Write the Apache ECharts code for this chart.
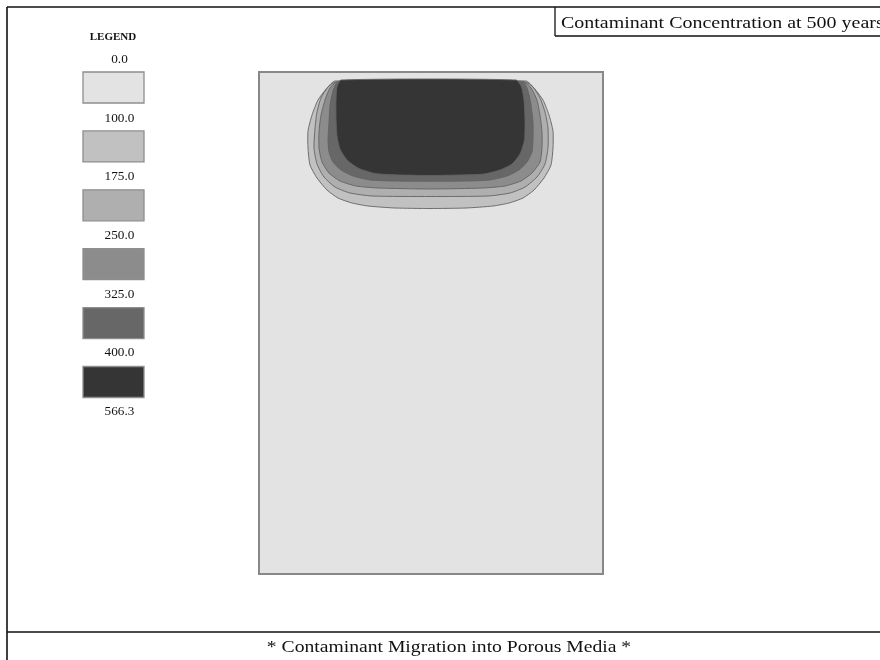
<!DOCTYPE html>
<html>
<head>
<meta charset="utf-8">
<script src="https://cdn.jsdelivr.net/npm/echarts@6/dist/echarts.min.js"></script>
<style>
  html, body { margin: 0; padding: 0; background: #ffffff; }
  #chart { width: 880px; height: 660px; }
</style>
</head>
<body>
<div id="chart"></div>
<script>
// Concentration contour levels and the grey shade of each band between them
const levels = [0.0, 100.0, 175.0, 250.0, 325.0, 400.0, 566.3];
const bandColors = ['#e3e3e3', '#c1c1c1', '#afafaf', '#8c8c8c', '#676767', '#353535'];

// Porous-media domain (m): width and depth
const domainWidth = 34.4;
const domainDepth = 50.2;

// Contour outlines as [x, depth] in metres, one closed ring per level
const contour100 = [[7.6,0.9],[6.8,1.6],[5.9,2.8],[5.3,4.3],[4.9,5.9],[4.9,7.6],[5.1,9.3],[5.8,10.6],[6.8,11.8],[7.9,12.6],[9.3,13.1],[10.9,13.4],[13.6,13.6],[17.1,13.65],[20.7,13.6],[23.4,13.4],[25.0,13.1],[26.4,12.6],[27.5,11.8],[28.5,10.6],[29.2,9.3],[29.4,7.6],[29.4,5.9],[29.0,4.3],[28.4,2.8],[27.5,1.6],[26.7,0.9]];
const contour175 = [[7.7,1.0],[6.9,1.5],[6.2,2.6],[5.8,4.0],[5.6,5.6],[5.5,7.6],[5.8,9.2],[6.5,10.5],[7.6,11.5],[9.1,12.1],[11.3,12.4],[17.1,12.45],[22.9,12.4],[25.1,12.1],[26.6,11.5],[27.8,10.5],[28.6,9.2],[28.9,7.6],[28.9,5.6],[28.6,4.0],[28.1,2.6],[27.4,1.5],[26.6,1.0]];
const contour250 = [[7.8,1.0],[7.1,1.6],[6.6,2.8],[6.2,4.3],[6.0,6.0],[6.0,7.6],[6.3,9.0],[7.0,10.1],[8.1,10.9],[9.7,11.4],[11.9,11.6],[17.1,11.7],[22.4,11.6],[24.6,11.4],[26.2,10.9],[27.3,10.1],[28.1,9.0],[28.3,7.6],[28.3,6.0],[28.1,4.3],[27.8,2.8],[27.2,1.6],[26.5,1.0]];
const contour325 = [[7.9,1.0],[7.4,1.9],[7.1,3.3],[7.0,5.0],[6.9,6.8],[7.0,8.0],[7.4,9.0],[8.2,9.8],[9.4,10.4],[11.1,10.8],[13.3,10.9],[17.1,10.93],[20.9,10.9],[23.1,10.8],[24.8,10.4],[26.0,9.8],[26.8,9.0],[27.3,8.0],[27.4,6.8],[27.4,5.0],[27.2,3.3],[26.9,1.9],[26.4,1.0]];
const contour400 = [[8.2,0.8],[7.8,1.5],[7.7,2.8],[7.7,4.6],[7.8,6.4],[8.1,7.7],[8.8,8.8],[9.9,9.6],[11.6,10.15],[14.1,10.3],[17.1,10.35],[20.1,10.3],[22.5,10.2],[24.1,9.8],[25.3,9.2],[26.1,8.2],[26.55,6.8],[26.6,4.8],[26.5,2.8],[26.25,1.5],[25.7,0.8]];
const contours = [contour100, contour175, contour250, contour325, contour400];

const titleText = 'Contaminant Concentration at 500 years';
const captionText = '* Contaminant Migration into Porous Media *';
const legendTitle = 'LEGEND';

const serif = '"Liberation Serif", "DejaVu Serif", serif';
const ink = '#111111';

const chart = echarts.init(document.getElementById('chart'), null, { renderer: 'canvas' });

// Legend: a swatch per band with the level values written between swatches
const legendGraphics = [];
legendGraphics.push({
  type: 'text', x: 113, y: 37, scaleX: 1.05,
  style: { text: legendTitle, font: 'bold 10.5px ' + serif, fill: ink, textAlign: 'center', textVerticalAlign: 'middle' }
});
levels.forEach((v, i) => {
  legendGraphics.push({
    type: 'text', x: 119.5, y: 60.3 + i * 58.55, scaleX: 1.15,
    style: { text: v.toFixed(1), font: '11.5px ' + serif, fill: ink, textAlign: 'center', textVerticalAlign: 'middle' }
  });
});
bandColors.forEach((c, i) => {
  legendGraphics.push({
    type: 'rect',
    shape: { x: 83, y: 72 + i * 58.9, width: 61, height: 31 },
    style: { fill: c, stroke: '#8e8e8e', lineWidth: 1.3 }
  });
});

const frameGraphics = [
  // outer frame and caption divider
  { type: 'line', shape: { x1: 7, y1: 7, x2: 880, y2: 7 }, style: { stroke: ink, lineWidth: 1.6 } },
  { type: 'line', shape: { x1: 7, y1: 7, x2: 7, y2: 660 }, style: { stroke: ink, lineWidth: 1.6 } },
  { type: 'line', shape: { x1: 7, y1: 632, x2: 880, y2: 632 }, style: { stroke: ink, lineWidth: 1.6 } },
  // title box
  { type: 'line', shape: { x1: 555, y1: 7, x2: 555, y2: 36 }, style: { stroke: ink, lineWidth: 1.3 } },
  { type: 'line', shape: { x1: 555, y1: 36, x2: 880, y2: 36 }, style: { stroke: ink, lineWidth: 1.3 } },
  {
    type: 'text', x: 561, y: 23.5, scaleX: 1.21,
    style: { text: titleText, font: '16.5px ' + serif, fill: ink, textAlign: 'left', textVerticalAlign: 'middle' }
  },
  {
    type: 'text', x: 449, y: 647.5, scaleX: 1.19,
    style: { text: captionText, font: '16.5px ' + serif, fill: ink, textAlign: 'center', textVerticalAlign: 'middle' }
  }
];

const option = {
  backgroundColor: '#ffffff',
  animation: false,
  grid: {
    left: 259, top: 72, width: 344, height: 502,
    show: true, backgroundColor: bandColors[0], borderColor: '#888888', borderWidth: 2
  },
  xAxis: { type: 'value', min: 0, max: domainWidth, show: false },
  yAxis: { type: 'value', min: 0, max: domainDepth, inverse: true, show: false },
  series: [{
    type: 'custom',
    coordinateSystem: 'cartesian2d',
    silent: true,
    clip: true,
    encode: { x: 0, y: 1 },
    data: contours.map((ring, i) => [ring[0][0], ring[0][1], levels[i + 1]]),
    renderItem: function (params, api) {
      const i = params.dataIndex;
      const pts = contours[i].map(p => api.coord(p));
      return {
        type: 'polygon',
        shape: { points: pts, smooth: 0.2 },
        style: { fill: bandColors[i + 1], stroke: '#626262', lineWidth: 0.9 }
      };
    }
  }],
  graphic: { elements: frameGraphics.concat(legendGraphics) }
};

chart.setOption(option);
</script>
</body>
</html>
